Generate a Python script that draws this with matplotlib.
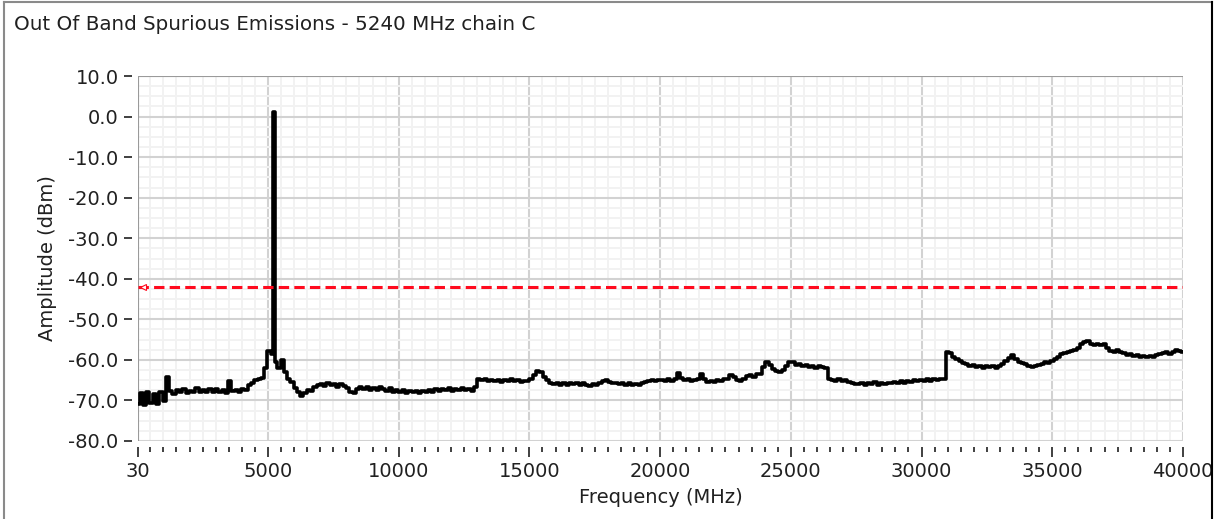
import matplotlib
matplotlib.use("Agg")
import matplotlib.pyplot as plt
import numpy as np
from matplotlib.lines import Line2D
from matplotlib.ticker import MultipleLocator, FixedLocator

amp_dbm = [
    -70.8, -68.2, -71.0, -68.0, -70.6, -68.4, -70.9, -67.9, -70.2, -64.3,
    -67.6, -68.3, -67.5, -68.0, -67.2, -68.1, -67.6, -67.9, -67.0, -67.8,
    -67.4, -68.0, -67.3, -67.8, -67.1, -67.9, -67.5, -68.2, -65.2, -67.6,
    -67.5, -68.0, -67.2, -67.4, -66.2, -65.8, -65.0, -64.8, -64.5, -62.0,
    -57.8, -58.5, -60.5, -62.0, -60.0, -63.0, -64.8, -65.5, -67.0, -68.0,
    -68.8, -68.2, -67.4, -67.6, -66.8, -66.3, -66.0, -66.5, -65.8, -66.3,
    -66.0, -66.6, -65.9, -66.4, -67.0, -67.8, -68.2, -67.2, -66.8, -67.3,
    -66.6, -67.4, -66.9, -67.5, -66.7, -67.2, -67.6, -67.0, -68.0, -67.5,
    -67.9, -67.5, -68.1, -67.6, -68.0, -67.7, -68.2, -67.6, -67.9, -67.4,
    -67.8, -67.3, -67.6, -67.1, -67.5, -67.0, -67.6, -67.2, -67.4, -67.0,
    -67.5, -67.2, -67.6, -66.8, -64.8, -65.0, -64.6, -65.2, -64.9, -65.3,
    -65.0, -65.4, -64.9, -65.2, -64.7, -65.3, -65.0, -65.5, -65.1, -65.2,
    -64.6, -63.8, -62.8, -63.0, -64.2, -65.0, -65.6, -66.0, -65.8, -66.2,
    -65.7, -66.1, -65.6, -66.0, -65.8, -66.3, -65.7, -66.1, -66.4, -66.0,
    -66.2, -65.8, -65.3, -65.0, -65.4, -65.8, -65.6, -66.0, -65.7, -66.1,
    -65.8, -66.1, -65.9, -66.2, -65.7, -65.5, -65.2, -65.0, -65.3, -64.9,
    -65.0, -65.3, -64.8, -65.2, -64.6, -63.2, -64.5, -65.0, -64.8, -65.2,
    -65.0, -64.6, -63.4, -64.8, -65.4, -65.2, -65.5, -65.0, -65.3, -64.8,
    -64.6, -63.8, -64.3, -64.9, -65.1, -64.6, -64.0, -63.8, -64.1, -63.6,
    -63.4, -61.8, -60.5, -61.2, -62.3, -62.8, -63.0, -62.5, -61.4, -60.5,
    -60.6, -61.2, -61.0, -61.6, -61.3, -61.8, -61.4, -61.9, -61.5, -61.8,
    -62.0, -64.8, -65.0, -65.3, -64.8, -65.2, -65.0, -65.4, -65.6, -65.9,
    -66.0, -65.6, -66.1, -65.8, -66.0, -65.5, -66.2, -65.7, -65.9, -65.6,
    -65.8, -65.4, -65.7, -65.3, -65.6, -65.2, -65.4, -65.0, -65.3, -64.9,
    -65.2, -64.8, -65.1, -64.7, -65.0, -64.6, -64.8, -58.0, -58.4, -59.2,
    -59.8, -60.2, -60.8, -61.0, -61.5, -61.3, -61.8, -61.5, -61.9, -61.6,
    -61.8, -61.4, -61.9, -61.5, -61.0, -60.3, -59.6, -58.8, -59.8, -60.4,
    -60.8, -61.0, -61.4, -61.7, -61.5, -61.2, -61.0, -60.6, -60.8, -60.3,
    -59.8, -59.2, -58.6, -58.3, -58.1, -57.8, -57.6, -57.0, -56.2, -55.6,
    -55.4, -56.0, -56.3, -56.0, -56.4, -56.2, -57.0, -57.8, -58.0, -57.6,
    -58.1, -58.4, -58.8, -58.6, -59.0, -58.8, -59.2, -59.0, -59.4, -59.1,
    -59.3, -58.9, -58.5, -58.2, -58.0, -58.6, -58.0, -57.6, -57.8, -58.0,
]
freq_start, freq_stop = 30, 40000
carrier_mhz = 5240
carrier_dbm = 1.0
limit_dbm = -42.0

x_ticks = [30, 5000, 10000, 15000, 20000, 25000, 30000, 35000, 40000]
y_ticks = [10, 0, -10, -20, -30, -40, -50, -60, -70, -80]

title = "Out Of Band Spurious Emissions - 5240 MHz chain C"

plt.rcParams['font.family'] = ['DejaVu Sans']
plt.rcParams['font.size'] = 14

freq = np.linspace(freq_start, freq_stop, len(amp_dbm))
freq = np.append(freq, carrier_mhz)
amp = np.append(np.array(amp_dbm), carrier_dbm)
order = np.argsort(freq)
freq, amp = freq[order], amp[order]

W, H = 1221, 519
fig = plt.figure(figsize=(W / 100, H / 100), dpi=100)
ax = fig.add_axes([138 / W, 1 - 441 / H, (1183 - 138) / W, (441 - 76) / H])

ax.set_xlim(freq_start, freq_stop)
ax.set_ylim(-80, 10)

# grid
ax.xaxis.set_major_locator(FixedLocator(x_ticks))
ax.xaxis.set_minor_locator(MultipleLocator(500))
ax.yaxis.set_major_locator(FixedLocator(y_ticks))
ax.yaxis.set_minor_locator(MultipleLocator(2.5))
ax.grid(which='minor', color='#f2f2f2', linewidth=1.4)
ax.grid(which='major', color='#d2d2d2', linewidth=1.5)
ax.set_axisbelow(True)

ax.plot(freq, amp, color='black', linewidth=2.6, drawstyle='steps-mid', zorder=3)
ax.plot([freq_start, freq_stop], [limit_dbm, limit_dbm], color='#ff0a1e',
        linewidth=2.2, dashes=(3.4, 1.7), zorder=4)
ax.plot([freq_start + 200], [limit_dbm], marker='<', markersize=4,
        markerfacecolor='white', markeredgecolor='#ff0a1e', markeredgewidth=0.8, zorder=5)

ax.set_yticklabels([f"{v:.1f}" for v in y_ticks])
ax.set_xticklabels([str(v) for v in x_ticks])

# spines: gray top/left at plot edge, ticks detached a few pixels away
for s in ['right', 'bottom', 'left', 'top']:
    ax.spines[s].set_visible(False)
ax.spines['left'].set_position(('outward', 4))
ax.spines['bottom'].set_position(('outward', 4))
ax.axvline(freq_start, color='#9a9a9a', linewidth=1.5, zorder=2)
ax.axhline(10, color='#9a9a9a', linewidth=1.5, zorder=2)

ax.tick_params(axis='y', which='major', direction='out', length=6, width=1.2,
               color='#202020', pad=4, labelsize=14, labelcolor='#202020')
ax.tick_params(axis='y', which='minor', length=0)
ax.tick_params(axis='x', which='major', direction='out', length=7, width=1.2,
               color='#202020', pad=4, labelsize=14, labelcolor='#202020')
ax.tick_params(axis='x', which='minor', direction='out', length=3.5, width=1.2,
               color='#202020')

ax.set_xlabel("Frequency (MHz)", fontsize=14, color='#202020', labelpad=5)
ax.set_ylabel("Amplitude (dBm)", fontsize=14, color='#202020', labelpad=8)

fig.text(14 / W, 1 - 25 / H, title, fontsize=14.3, color='#202020', va='center', ha='left')

# outer panel frame
fig.add_artist(Line2D([4 / W, 4 / W], [0, 1 - 2 / H], color='#8a8a8a', linewidth=1.5))
fig.add_artist(Line2D([4 / W, 1212 / W], [1 - 2 / H, 1 - 2 / H], color='#8a8a8a', linewidth=1.5))
fig.add_artist(Line2D([1212 / W, 1212 / W], [0, 1 - 2 / H], color='black', linewidth=1.5))

fig.savefig("out.png", dpi=100)
